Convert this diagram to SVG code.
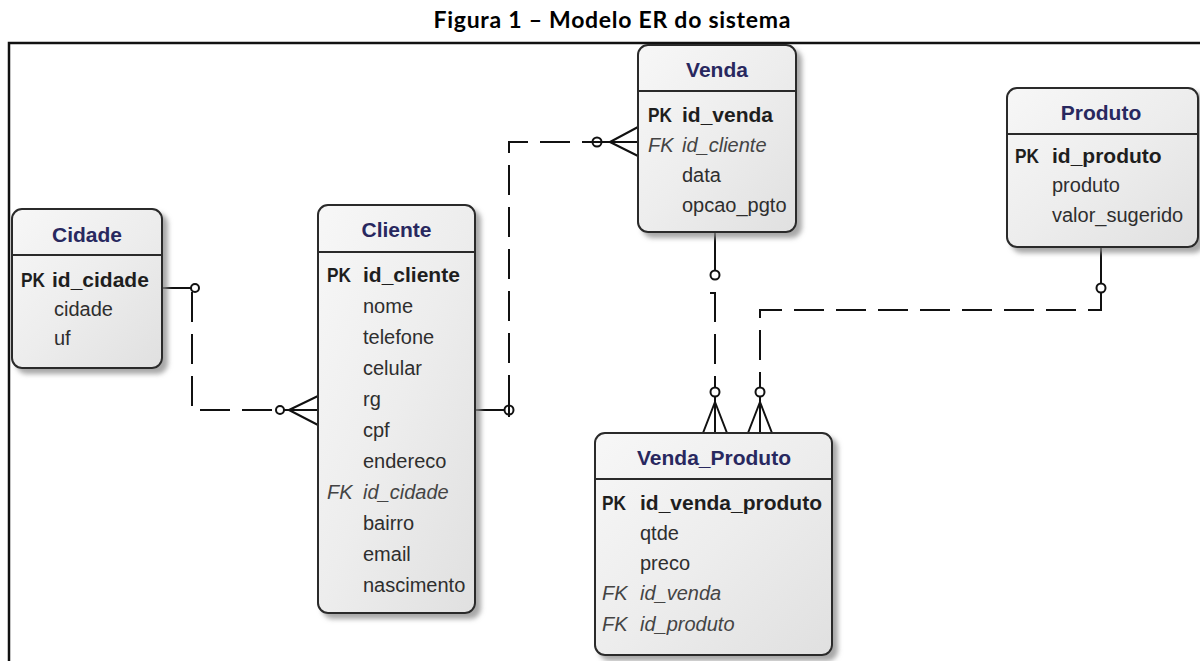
<svg xmlns="http://www.w3.org/2000/svg" width="1200" height="661" viewBox="0 0 1200 661">
<defs>
<linearGradient id="g" x1="0" y1="0" x2="1" y2="1">
<stop offset="0" stop-color="#f7f7f7"/>
<stop offset="0.5" stop-color="#ededed"/>
<stop offset="1" stop-color="#e0e0e0"/>
</linearGradient>
<filter id="sh" x="-10%" y="-10%" width="130%" height="130%">
<feDropShadow dx="5" dy="5" stdDeviation="2.5" flood-color="#8a8a8a" flood-opacity="0.75"/>
</filter>
</defs>
<style>
.box{fill:url(#g);stroke:#2a2a2a;stroke-width:2;filter:url(#sh)}
.div{stroke:#2a2a2a;stroke-width:2}
.title{font-family:"Liberation Sans",Arial,sans-serif;font-weight:bold;font-size:21px;fill:#28285f;text-anchor:middle}
.pk{font-family:"Liberation Sans",Arial,sans-serif;font-weight:bold;font-size:21px;fill:#1e1e1e}
.pkl{font-family:"Liberation Sans",Arial,sans-serif;font-weight:bold;font-size:20px;fill:#1e1e1e}
.f{font-family:"Liberation Sans",Arial,sans-serif;font-size:20px;fill:#2e2e2e}
.fk{font-family:"Liberation Sans",Arial,sans-serif;font-size:20px;font-style:italic;fill:#444}
.ln{fill:none;stroke:#111;stroke-width:2}
.dash{fill:none;stroke:#111;stroke-width:2;stroke-dasharray:30 12}
.c{fill:#fff;stroke:#111;stroke-width:2}
.cap{font-family:Lato,"Liberation Sans",Arial,sans-serif;font-weight:bold;font-size:23px;fill:#000;text-anchor:middle}
</style>
<rect width="1200" height="661" fill="#fff"/>
<text class="cap" x="612" y="28" textLength="357" lengthAdjust="spacing">Figura 1 – Modelo ER do sistema</text>
<path d="M9,661 V43 H1200" fill="none" stroke="#111" stroke-width="2.5"/>

<g id="connectors">
<!-- Cidade - Cliente -->
<path class="ln" d="M162,288 H191"/>
<path class="dash" d="M192,292 V410 H276"/>
<circle class="c" cx="195" cy="288" r="4"/>
<circle class="c" cx="280" cy="410" r="4"/>
<path class="ln" d="M284,410 H318 M289,410 L318,396 M289,410 L318,425"/>
<!-- Cliente - Venda -->
<path class="ln" d="M475,410 H504"/>
<path class="dash" d="M509,405 V142 H592"/>
<circle class="c" cx="509" cy="410" r="4.5"/>
<path class="ln" d="M509,403 V417"/>
<circle class="c" cx="597" cy="142" r="4.5"/>
<path class="ln" d="M590,142 H638 M610,142 L638,127 M610,142 L638,156"/>
<!-- Venda - Venda_Produto -->
<path class="ln" d="M715,232 V270"/>
<circle class="c" cx="715" cy="275" r="4.5"/>
<path class="dash" d="M715,292 V387"/>
<path class="ln" d="M710,293 H715"/>
<circle class="c" cx="715" cy="392" r="4.5"/>
<path class="ln" d="M715,397 V433 M715,402 L703,433 M715,402 L727,433"/>
<!-- Produto - Venda_Produto -->
<path class="ln" d="M1101,247 V283"/>
<circle class="c" cx="1101" cy="288" r="4.5"/>
<path class="dash" d="M1101,293 V310 H760 V387"/>
<circle class="c" cx="760" cy="392" r="4.5"/>
<path class="ln" d="M760,397 V433 M760,402 L748,433 M760,402 L772,433"/>
</g>

<g id="cidade">
<rect class="box" x="12" y="209" width="150" height="159" rx="10"/>
<line class="div" x1="12" y1="255" x2="162" y2="255"/>
<text class="title" x="87" y="242">Cidade</text>
<text class="pkl" x="21" y="287" textLength="24" lengthAdjust="spacingAndGlyphs">PK</text><text class="pk" x="52" y="287">id_cidade</text>
<text class="f" x="54" y="316">cidade</text>
<text class="f" x="54" y="345">uf</text>
</g>

<g id="cliente">
<rect class="box" x="318" y="205" width="157" height="408" rx="10"/>
<line class="div" x1="318" y1="252" x2="475" y2="252"/>
<text class="title" x="396.5" y="237">Cliente</text>
<text class="pkl" x="327" y="282" textLength="24" lengthAdjust="spacingAndGlyphs">PK</text><text class="pk" x="363" y="282">id_cliente</text>
<text class="f" x="363" y="313">nome</text>
<text class="f" x="363" y="344">telefone</text>
<text class="f" x="363" y="375">celular</text>
<text class="f" x="363" y="406">rg</text>
<text class="f" x="363" y="437">cpf</text>
<text class="f" x="363" y="468">endereco</text>
<text class="fk" x="327" y="499">FK</text><text class="fk" x="363" y="499">id_cidade</text>
<text class="f" x="363" y="530">bairro</text>
<text class="f" x="363" y="561">email</text>
<text class="f" x="363" y="592">nascimento</text>
</g>

<g id="venda">
<rect class="box" x="638" y="45" width="158" height="187" rx="10"/>
<line class="div" x1="638" y1="91" x2="796" y2="91"/>
<text class="title" x="717" y="77">Venda</text>
<text class="pkl" x="648" y="122" textLength="24" lengthAdjust="spacingAndGlyphs">PK</text><text class="pk" x="682" y="122">id_venda</text>
<text class="fk" x="648" y="152">FK</text><text class="fk" x="682" y="152">id_cliente</text>
<text class="f" x="682" y="182">data</text>
<text class="f" x="682" y="212">opcao_pgto</text>
</g>

<g id="produto">
<rect class="box" x="1007" y="88" width="191" height="159" rx="10"/>
<line class="div" x1="1007" y1="134" x2="1198" y2="134"/>
<text class="title" x="1101" y="120">Produto</text>
<text class="pkl" x="1015" y="163" textLength="24" lengthAdjust="spacingAndGlyphs">PK</text><text class="pk" x="1052" y="163">id_produto</text>
<text class="f" x="1052" y="192">produto</text>
<text class="f" x="1052" y="222">valor_sugerido</text>
</g>

<g id="venda_produto">
<rect class="box" x="595" y="433" width="237" height="222" rx="10"/>
<line class="div" x1="595" y1="479" x2="832" y2="479"/>
<text class="title" x="714" y="465">Venda_Produto</text>
<text class="pkl" x="602" y="510" textLength="24" lengthAdjust="spacingAndGlyphs">PK</text><text class="pk" x="640" y="510">id_venda_produto</text>
<text class="f" x="640" y="540">qtde</text>
<text class="f" x="640" y="570">preco</text>
<text class="fk" x="602" y="600">FK</text><text class="fk" x="640" y="600">id_venda</text>
<text class="fk" x="602" y="631">FK</text><text class="fk" x="640" y="631">id_produto</text>
</g>
</svg>
